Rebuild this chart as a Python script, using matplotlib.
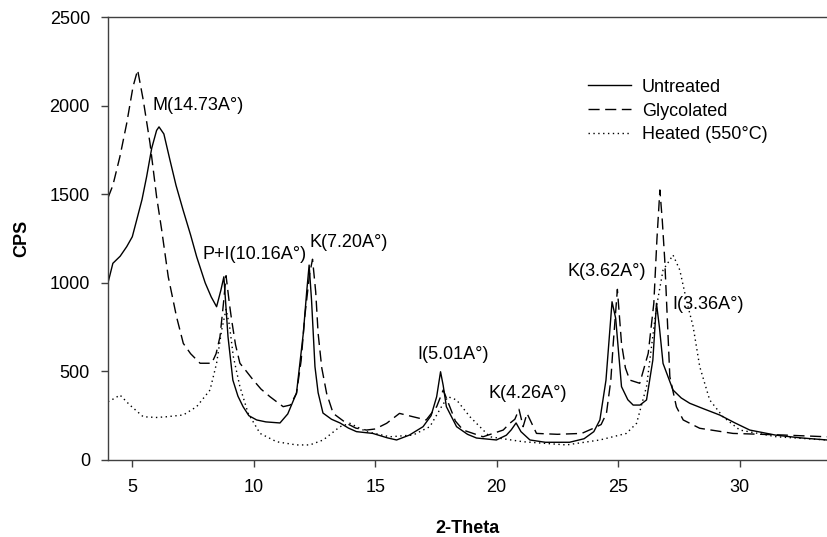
import matplotlib
matplotlib.use("Agg")
import matplotlib.pyplot as plt

plt.rcParams["font.family"] = ["Liberation Sans", "DejaVu Sans"]
plt.rcParams["font.size"] = 13

# Untreated (solid)
untreated_x = [4.0, 4.2, 4.5, 4.77, 5.0, 5.18, 5.4, 5.59, 5.8, 6.0, 6.1, 6.3, 6.55, 6.8,
               7.09, 7.4, 7.65, 8.0, 8.25, 8.47, 8.65, 8.77, 8.94, 9.14, 9.35, 9.56, 9.8,
               10.12, 10.5, 11.08, 11.4, 11.76, 12.04, 12.18, 12.28, 12.38, 12.52, 12.65,
               12.85, 13.2, 13.55, 13.9, 14.23, 14.9, 15.5, 15.88, 16.4, 16.97, 17.3, 17.53,
               17.69, 17.8, 17.93, 18.35, 18.8, 19.17, 19.99, 20.4, 20.6, 20.8, 21.0, 21.37,
               22.0, 23.0, 23.6, 24.0, 24.25, 24.5, 24.75, 24.9, 25.14, 25.4, 25.62, 25.9,
               26.17, 26.43, 26.58, 26.7, 26.85, 27.26, 27.6, 27.95, 28.5, 29.18, 29.8,
               30.42, 31.5, 32.5, 33.6]
untreated_y = [1000, 1110, 1150, 1204, 1260, 1354, 1470, 1599, 1760, 1860, 1880, 1840, 1693, 1550,
               1411, 1270, 1147, 1000, 920, 865, 960, 1034, 696, 451, 360, 301, 250,
               226, 215, 209, 260, 378, 715, 950, 1100, 900, 527, 380,
               265, 230, 209, 180, 160, 150, 125, 113, 140, 188, 250, 357,
               498, 420, 301, 188, 145, 124, 113, 140, 170, 209, 160, 113,
               100, 100, 120, 160, 226, 450, 893, 800, 414, 340, 310, 310,
               339, 564, 884, 750, 545, 395, 350, 320, 290, 254, 210,
               169, 140, 125, 113]

# Glycolated (dashed)
glycolated_x = [4.0, 4.2, 4.49, 4.77, 5.03, 5.22, 5.45, 5.73, 6.0, 6.21, 6.48, 6.82, 7.1, 7.4,
                7.79, 8.27, 8.45, 8.61, 8.75, 8.86, 9.0, 9.09, 9.25, 9.43, 9.7, 9.98, 10.3,
                10.67, 11.21, 11.5, 11.76, 11.95, 12.1, 12.3, 12.42, 12.55, 12.65, 12.8, 13.0,
                13.27, 13.82, 14.2, 14.64, 15.0, 15.47, 16.0, 16.56, 17.1, 17.53, 17.8, 18.07,
                18.3, 18.62, 19.44, 20.27, 20.54, 20.75, 20.92, 21.09, 21.25, 21.64, 22.5,
                23.5, 24.0, 24.3, 24.52, 24.7, 24.8, 24.97, 25.14, 25.3, 25.48, 25.89, 26.24,
                26.47, 26.6, 26.72, 26.82, 26.92, 27.13, 27.4, 27.68, 28.36, 29.73, 31.79, 33.6]
glycolated_y = [1480, 1550, 1712, 1900, 2107, 2201, 2032, 1787, 1486, 1298, 1034, 809, 658, 600,
                546, 546, 600, 696, 880, 1040, 880, 790, 650, 546, 500, 451, 400,
                357, 301, 310, 376, 560, 809, 1050, 1133, 950, 715, 520, 376,
                263, 207, 180, 169, 175, 207, 263, 244, 226, 301, 395, 301,
                220, 169, 131, 169, 207, 230, 286, 188, 263, 150, 145,
                150, 180, 200, 263, 450, 658, 963, 658, 520, 451, 433, 602,
                884, 1250, 1524, 1350, 1129, 470, 300, 226, 179, 150, 141, 131]

# Heated 550 C (dotted)
heated_x = [4.0, 4.3, 4.49, 4.9, 5.45, 6.0, 6.41, 7.1, 7.65, 8.2, 8.47, 8.68, 8.86, 9.0,
            9.16, 9.43, 9.77, 10.26, 10.94, 11.76, 12.31, 12.86, 13.55, 13.96, 14.64, 15.6,
            16.56, 17.25, 17.73, 18.0, 18.35, 18.9, 19.72, 21.09, 22.87, 24.25, 25.34, 25.76,
            26.17, 26.58, 26.85, 27.13, 27.26, 27.54, 27.81, 28.09, 28.36, 28.77, 29.32,
            30.01, 31.52, 33.6]
heated_y = [329, 350, 367, 310, 244, 240, 244, 254, 301, 395, 546, 734, 850, 760,
            583, 414, 263, 150, 103, 85, 85, 113, 188, 207, 160, 131,
            141, 188, 301, 357, 339, 244, 131, 103, 85, 113, 150, 207,
            414, 865, 1072, 1129, 1157, 1072, 903, 752, 527, 339, 244,
            169, 131, 113]

peak_labels = ["M(14.73A°)", "P+I(10.16A°)", "K(7.20A°)", "I(5.01A°)",
               "K(4.26A°)", "K(3.62A°)", "I(3.36A°)"]
label_x = [5.85, 7.87, 12.31, 16.72, 19.68, 22.93, 27.25]
label_y = [2003, 1157, 1230, 593, 378, 1061, 880]

fig = plt.figure(figsize=(8.27, 5.37), dpi=100)
ax = fig.add_axes([0.1306, 0.1434, 0.8694, 0.8249])

ax.plot(untreated_x, untreated_y, color="black", lw=1.0, ls="-", label="Untreated")
ax.plot(glycolated_x, glycolated_y, color="black", lw=1.0, ls=(0, (8, 4)), label="Glycolated")
ax.plot(heated_x, heated_y, color="black", lw=1.0, ls=(0, (1, 2.5)), label="Heated (550°C)")

for txt, tx, ty in zip(peak_labels, label_x, label_y):
    ax.text(tx, ty, txt, ha="left", va="center", fontsize=13)

ax.set_xlim(4, 33.6)
ax.set_ylim(0, 2500)
ax.set_xticks([5, 10, 15, 20, 25, 30])
ax.set_yticks([0, 500, 1000, 1500, 2000, 2500])

for side in ["left", "bottom", "top"]:
    ax.spines[side].set_color("#404040")
    ax.spines[side].set_linewidth(1.0)
ax.spines["right"].set_visible(False)
ax.tick_params(direction="out", length=5, width=1, color="#404040", labelsize=13)
ax.tick_params(axis="x", pad=9)
ax.tick_params(axis="y", pad=8)

ax.set_xlabel("2-Theta", fontweight="bold", fontsize=13, labelpad=17)
ax.set_ylabel("CPS", fontweight="bold", fontsize=13, labelpad=14)

ax.legend(loc="upper left", bbox_to_anchor=(0.657, 0.877), frameon=False, fontsize=13,
          handlelength=2.4, handletextpad=0.6, labelspacing=0.38, borderaxespad=0.0)

fig.savefig("out.png", dpi=100)
